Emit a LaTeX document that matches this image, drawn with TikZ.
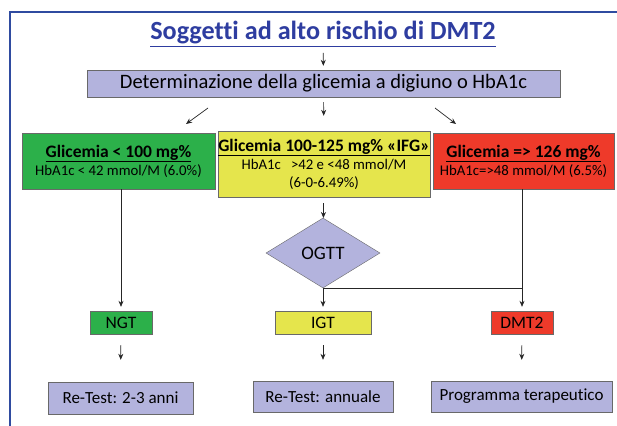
\documentclass[tikz,border=0pt]{standalone}
\usepackage{fontspec}
\setmainfont{Carlito}[Ligatures=NoCommon]
\usetikzlibrary{shapes.geometric,arrows.meta}
\definecolor{frameblue}{RGB}{47,75,160}
\definecolor{titleblue}{RGB}{46,61,160}
\definecolor{lavender}{RGB}{179,179,221}
\definecolor{okgreen}{RGB}{44,176,74}
\definecolor{ifgyellow}{RGB}{229,229,76}
\definecolor{dmred}{RGB}{238,58,42}
\definecolor{boxgray}{RGB}{105,105,105}
\newcommand{\hdr}[1]{\textbf{\underline{#1}}}% bold underlined heading
\tikzset{
  flowbox/.style={draw=boxgray,fill=lavender,inner sep=0pt,align=center,
    font=\fontsize{17}{20}\selectfont},
  rangebox/.style={draw=boxgray,inner sep=0pt,align=center,
    font=\fontsize{14.8}{18}\selectfont},
  tagbox/.style={draw=boxgray,inner sep=0pt,minimum height=23pt,
    font=\fontsize{17.5}{19}\selectfont},
  flow/.style={->,line width=0.7pt,black!85},
}

\begin{document}
\begin{tikzpicture}[x=1pt,y=-1pt,>={Stealth[length=6pt,width=5pt]}]
  \useasboundingbox (0,0) rectangle (617,425);
  \fill[white] (0,0) rectangle (617,425);
  \draw[frameblue,line width=2pt] (10,12) rectangle (640,450);
  \node[text=titleblue,font=\bfseries\fontsize{26.2}{30}\selectfont] (title) at (323,34)
    {\underline{Soggetti ad alto rischio di DMT2}};
  \node[flowbox,font=\fontsize{20.5}{24}\selectfont,minimum width=473pt,minimum height=27pt]
    (det) at (323.5,83.5) {Determinazione della glicemia a digiuno o HbA1c};
  \node[rangebox,fill=okgreen,minimum width=193pt,minimum height=56pt] (ngl) at (118.5,161)
    {{\fontsize{17.5}{20}\selectfont\hdr{Glicemia < 100 mg\%}}\\ HbA1c < 42 mmol/M (6.0\%)};
  \node[rangebox,fill=ifgyellow,minimum width=212pt,minimum height=66pt] (ifg) at (324,164)
    {{\fontsize{17.5}{20}\selectfont\hdr{Glicemia 100-125 mg\% «IFG»}}\\
     HbA1c\ \ \ >42 e <48 mmol/M\\(6-0-6.49\%)};
  \node[rangebox,fill=dmred,minimum width=181pt,minimum height=56pt] (dmg) at (523.5,161)
    {{\fontsize{17.5}{20}\selectfont\hdr{Glicemia => 126 mg\%}}\\ HbA1c=>48 mmol/M (6.5\%)};
  \node[diamond,draw=boxgray,fill=lavender,inner sep=0pt,minimum width=114pt,
    minimum height=70pt,font=\fontsize{19}{22}\selectfont] (ogtt) at (323,253) {OGTT};
  \node[tagbox,fill=okgreen,minimum width=62pt] (ngt) at (121,322.5) {NGT};
  \node[tagbox,fill=ifgyellow,minimum width=96pt] (igt) at (323,322.5) {IGT};
  \node[tagbox,fill=dmred,minimum width=62pt] (dmt) at (522,322.5) {DMT2};
  \node[flowbox,minimum width=145pt,minimum height=32pt] (rta) at (120.5,398) {Re-Test: 2-3 anni};
  \node[flowbox,minimum width=140pt,minimum height=31pt] (rtb) at (323,396.5) {Re-Test: annuale};
  \node[flowbox,minimum width=181pt,minimum height=31pt] (prog) at (521.5,396.5) {Programma terapeutico};
  \coordinate (la) at (208,108);
  \coordinate (lb) at (186,124);
  \coordinate (ra) at (435,108);
  \coordinate (rb) at (456,124);
  \draw[flow,shorten <=3pt,shorten >=4pt] (title) -- (det);
  \draw[flow] (la) -- (lb);
  \draw[flow,shorten <=5pt,shorten >=15pt] (det) -- (ifg);
  \draw[flow] (ra) -- (rb);
  \draw[flow,shorten <=6pt] (ifg) -- (ogtt);
  \draw[flow,shorten >=4pt] (ngl.south -| ngt) -- (ngt);
  \draw[flow,shorten >=4pt] (dmg.south -| dmt) -- (dmt);
  \draw[line width=0.7pt,black!85] (ogtt.south) -- (ogtt.south -| dmt);
  \draw[flow,shorten >=4pt] (ogtt) -- (igt);
  \draw[flow,shorten <=11pt,shorten >=22pt] (ngt) -- (rta);
  \draw[flow,shorten <=11pt,shorten >=21pt] (igt) -- (rtb);
  \draw[flow,shorten <=11pt,shorten >=21pt] (dmt) -- (prog);
\end{tikzpicture}
\end{document}
